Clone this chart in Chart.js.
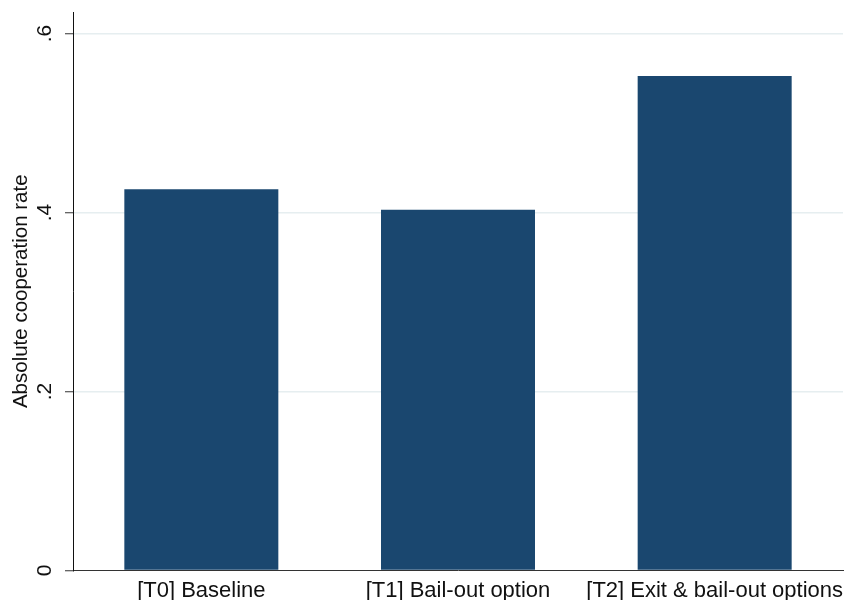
<!DOCTYPE html>
<html>
<head>
<meta charset="utf-8">
<script src="https://cdn.jsdelivr.net/npm/chart.js@4.4.0/dist/chart.umd.min.js"></script>
<style>
  html, body { margin: 0; padding: 0; background: #fff; }
  #wrap { width: 845px; height: 600px; }
</style>
</head>
<body>
<div id="wrap"><canvas id="bar_canvas" width="845" height="600"></canvas></div>
<script>
// values
const categories = ['[T0] Baseline', '[T1] Bail-out option', '[T2] Exit & bail-out options'];
const coopRate = [0.426, 0.403, 0.5525];
const yTicks = [0, 0.2, 0.4, 0.6];
const yTickLabels = ['0', '.2', '.4', '.6'];
const yMax = 0.624;

const font = '"Liberation Sans", Arial, sans-serif';
const navy = '#1a476f';

var ctx = document.getElementById('bar_canvas');
var myChart = new Chart(ctx, {
  type: 'bar',
  data: {
    labels: categories,
    datasets: [{
      data: coopRate,
      backgroundColor: navy,
      borderWidth: 0,
      categoryPercentage: 1,
      barPercentage: 0.6
    }]
  },
  options: {
    responsive: false,
    animation: false,
    events: [],
    layout: { padding: { top: 12, right: 2, left: 0, bottom: 0 } },
    plugins: { legend: { display: false }, tooltip: { enabled: false } },
    scales: {
      x: {
        grid: { display: false, drawTicks: false },
        border: { display: true, color: '#333', width: 1 },
        ticks: {
          color: '#111',
          font: { family: font, size: 22 },
          padding: 7,
          autoSkip: false,
          maxRotation: 0,
          minRotation: 0
        },
        afterFit: function (scale) {
          scale.height = 29.5;
          scale.paddingLeft = 0;
          scale.paddingRight = 0;
        }
      },
      y: {
        min: 0,
        max: yMax,
        afterBuildTicks: function (scale) {
          scale.ticks = yTicks.map(v => ({ value: v }));
        },
        grid: {
          color: function (c) { return c.tick && c.tick.value === 0 ? 'rgba(0,0,0,0)' : '#e6eef0'; },
          lineWidth: 1.5,
          drawTicks: true,
          tickLength: 8,
          tickColor: '#333',
          tickWidth: 1
        },
        border: { display: true, color: '#111', width: 1 },
        ticks: {
          color: '#111',
          font: { family: font, size: 21 },
          padding: 11,
          minRotation: 90,
          maxRotation: 90,
          crossAlign: 'center',
          callback: function (value, i) { return yTickLabels[i]; }
        },
        title: {
          display: true,
          text: 'Absolute cooperation rate',
          color: '#111',
          font: { family: font, size: 20.5 },
          padding: { top: 9, bottom: 0 }
        },
        afterFit: function (scale) {
          scale.width = 73;
          scale.paddingTop = 0;
          scale.paddingBottom = 0;
        }
      }
    }
  }
});
</script>
</body>
</html>
